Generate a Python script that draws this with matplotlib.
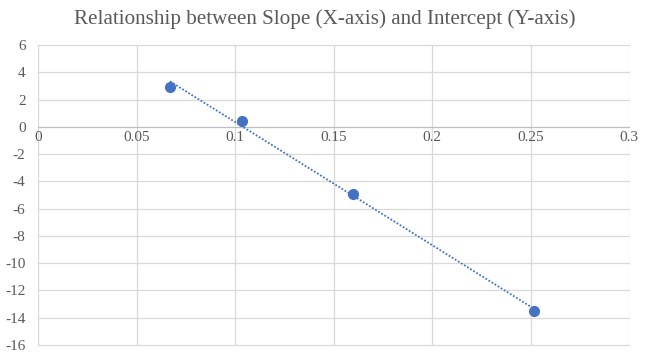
import numpy as np
import matplotlib.pyplot as plt

# slope vs intercept values
slopes = [0.067, 0.1035, 0.160, 0.2518]
intercepts = [2.94, 0.44, -4.93, -13.5]

x_ticks = [0, 0.05, 0.1, 0.15, 0.2, 0.25, 0.3]
y_ticks = list(range(-16, 7, 2))

BLUE = '#4472C4'
GRID = '#d9d9d9'
TEXT = '#595959'

plt.rcParams['font.family'] = ['Liberation Serif', 'DejaVu Serif']
plt.rcParams['axes.unicode_minus'] = False

fig = plt.figure(figsize=(6.5, 3.57), dpi=100)
ax = fig.add_axes([0.0585, 0.034, 0.9092, 0.840])

# linear trendline over the data range
coef = np.polyfit(slopes, intercepts, 1)
xs = np.array([min(slopes), max(slopes)])
ax.plot(xs, np.polyval(coef, xs), linestyle=(0, (1, 1)), color=BLUE, linewidth=1.3, zorder=3)
ax.plot(slopes, intercepts, 'o', color=BLUE, markersize=7, zorder=4)

ax.set_xlim(0, 0.3)
ax.set_ylim(-16, 6)
ax.set_xticks(x_ticks)
ax.set_xticklabels(['0', '0.05', '0.1', '0.15', '0.2', '0.25', '0.3'])
ax.set_yticks(y_ticks)
ax.grid(True, color=GRID, linewidth=0.9)
for line in ax.get_xgridlines() + ax.get_ygridlines():
    line.set_clip_on(False)
ax.set_axisbelow(True)

for s in ['top', 'right', 'left']:
    ax.spines[s].set_visible(False)
ax.spines['bottom'].set_position(('data', 0))
ax.spines['bottom'].set_color('#bfbfbf')
ax.tick_params(length=0, labelsize=11, colors=TEXT)
ax.tick_params(axis='x', pad=3)
ax.tick_params(axis='y', pad=9)

fig.suptitle('Relationship between Slope (X-axis) and Intercept (Y-axis)',
             fontsize=15.2, color=TEXT, x=0.499, y=0.973)

fig.savefig('out.png', dpi=100)
